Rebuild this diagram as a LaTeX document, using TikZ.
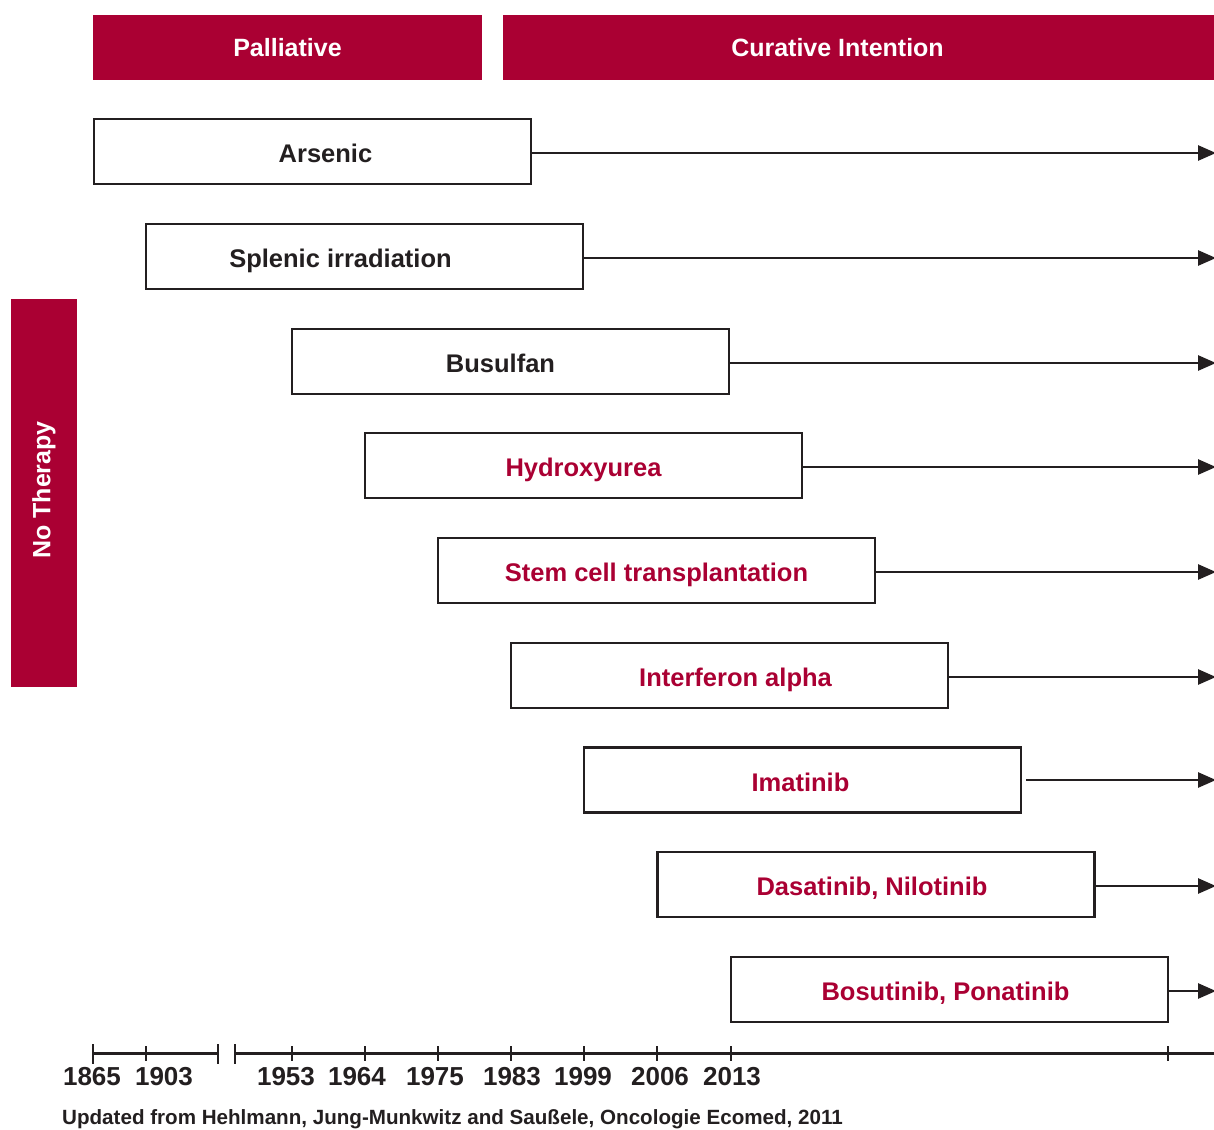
\documentclass[tikz,border=0pt]{standalone}
\usepackage{fontspec}
\setmainfont{Liberation Sans}
\usepackage{tikz}
\usetikzlibrary{arrows.meta}

\definecolor{cml}{HTML}{AA0033}
\definecolor{ink}{HTML}{231F20}

\tikzset{
  banner/.style={fill=cml,text=white,inner sep=0,font=\fontsize{25}{30}\selectfont\bfseries},
  therapy/.style={draw=ink,line width=2.8pt,fill=white,minimum width=437pt,minimum height=65pt,inner sep=0,
    text height=22pt,text depth=0pt,font=\fontsize{25.5}{30}\selectfont\bfseries,text=ink},
  newer/.style={therapy,text=cml},
  year/.style={font=\fontsize{26}{30}\selectfont\bfseries,text=ink,inner sep=0},
}

\begin{document}
\begin{tikzpicture}[x=1pt,y=-1pt,>={Triangle[length=18pt,width=15pt]}]
  \useasboundingbox (0,0) rectangle (1214,1129);
  % banners
  \node[banner,minimum width=389pt,minimum height=65pt] at (287.5,47.5) (pall) {Palliative};
  \node[banner,minimum width=711pt,minimum height=65pt] at (858.5,47.5) (cure) {Curative Intention\kern42pt};
  \node[banner,minimum width=388pt,minimum height=66pt,rotate=90] at (44,493) (none) {\kern6pt No Therapy};
  % therapies
  \node[therapy] at (312.5,151.5) (ars) {\kern26pt Arsenic};
  \node[therapy] at (364.5,256.5) (spl) {Splenic irradiation\kern48pt};
  \node[therapy] at (510.5,361.5) (bus) {Busulfan\kern20pt};
  \node[newer]   at (583.5,465.5) (hyd) {Hydroxyurea};
  \node[newer]   at (656.5,570.5) (sct) {Stem cell transplantation};
  \node[newer]   at (729.5,675.5) (ifn) {\kern12pt Interferon alpha};
  \node[newer]   at (802.5,780) (ima) {Imatinib\kern4pt};
  \node[newer]   at (876,884.5) (das) {Dasatinib, Nilotinib\kern8pt};
  \node[newer]   at (949.5,989.5) (bos) {Bosutinib, Ponatinib\kern8pt};
  \coordinate (edge) at (1216,0);
  \foreach \t in {ars,spl,bus,hyd,sct,ifn,das,bos}
    \draw[->,ink,line width=2.6pt] ([yshift=-1.5pt]\t.east) -- ([yshift=-1.5pt]\t.east -| edge);
  \draw[->,ink,line width=2.6pt,shorten <=4pt] (ima.east) -- (ima.east -| edge);
  % time axis
  \coordinate (a0) at (93,1053);
  \coordinate (a1) at (218,1053);
  \coordinate (b0) at (235,1053);
  \coordinate (b1) at (1214,1053);
  \draw[ink,line width=3pt] (a0) -- (a1);
  \draw[ink,line width=3pt] (b0) -- (b1);
  \foreach \x in {93,218,235}
    \draw[ink,line width=2.8pt] (\x,1044) -- (\x,1064);
  \foreach \x in {146,292,365,438,511,584,657,731,1168}
    \draw[ink,line width=2pt] (\x,1046) -- (\x,1061);
  \node[year] at (92,1077) (y1) {1865};
  \node[year] at (164,1077) (y2) {1903};
  \node[year] at (286,1077) (y3) {1953};
  \node[year] at (357,1077) (y4) {1964};
  \node[year] at (435,1077) (y5) {1975};
  \node[year] at (512,1077) (y6) {1983};
  \node[year] at (583,1077) (y7) {1999};
  \node[year] at (660,1077) (y8) {2006};
  \node[year] at (732,1077) (y9) {2013};
  \node[year,anchor=west,font=\fontsize{20.6}{24}\selectfont\bfseries] at (62,1119) (src)
    {Updated from Hehlmann, Jung-Munkwitz and Saußele, Oncologie Ecomed, 2011};
\end{tikzpicture}
\end{document}
